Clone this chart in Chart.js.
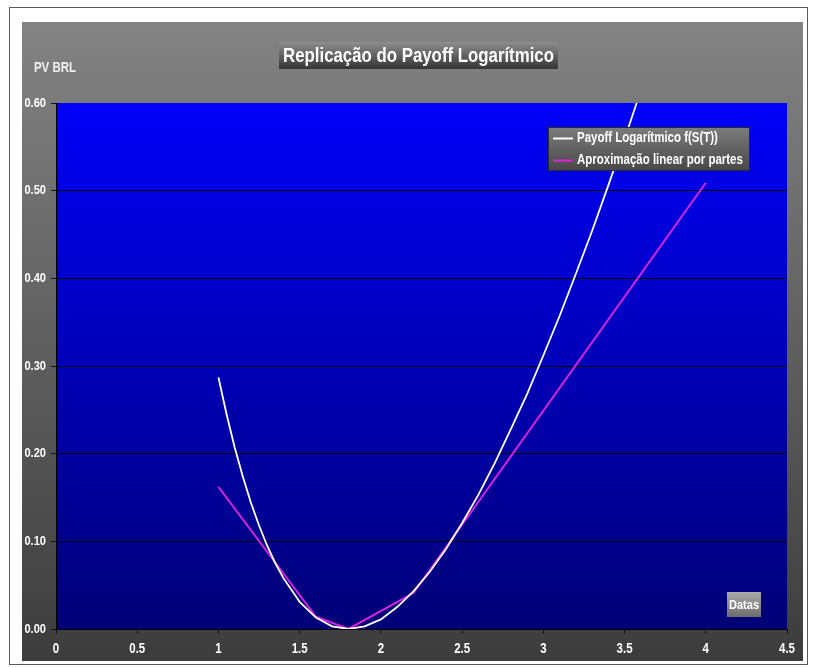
<!DOCTYPE html>
<html>
<head>
<meta charset="utf-8">
<script src="https://cdn.jsdelivr.net/npm/chart.js@4.4.1/dist/chart.umd.min.js"></script>
<style>
  html, body { margin: 0; padding: 0; background: #fff; }
  canvas { display: block; }
</style>
</head>
<body>
<canvas id="c" width="814" height="668" style="width:814px;height:668px"></canvas>
<script>
// Texts
const chartTitle = 'Replicação do Payoff Logarítmico';
const yAxisTitle = 'PV BRL';
const xAxisTitle = 'Datas';
const seriesNames = ['Payoff Logarítmico f(S(T))', 'Aproximação linear por partes'];

// Log payoff at terminal spot S(T)
const payoffS = [1.0, 1.05, 1.1, 1.15, 1.2, 1.25, 1.3, 1.35, 1.4, 1.5, 1.6, 1.7, 1.8, 1.9,
                 2.0, 2.1, 2.2, 2.3, 2.4, 2.5, 2.6, 2.7, 2.8, 2.9, 3.0, 3.1, 3.2, 3.3,
                 3.4, 3.5, 3.6];
const payoffValues = [0.287, 0.245, 0.207, 0.174, 0.144, 0.118, 0.095, 0.075, 0.058, 0.031,
                      0.013, 0.003, 0.000, 0.003, 0.011, 0.025, 0.043, 0.065, 0.091, 0.121,
                      0.153, 0.189, 0.228, 0.268, 0.312, 0.357, 0.405, 0.454, 0.506, 0.559,
                      0.614];

// Piecewise linear replication (strike knots)
const approxS = [1.0, 1.6, 1.8, 2.2, 4.0];
const approxValues = [0.162, 0.014, 0.000, 0.041, 0.509];

// Axis ticks
const xTickValues = [0, 0.5, 1, 1.5, 2, 2.5, 3, 3.5, 4, 4.5];
const yTickValues = [0, 0.1, 0.2, 0.3, 0.4, 0.5, 0.6];

// Narrow bold sans: regular sans squeezed horizontally
const FONT = "'Liberation Sans', Arial, sans-serif";
const SQUEEZE = 0.82;
const seriesColors = ['#ffffff', '#dd22dd'];

function toPoints(xs, ys) {
  return xs.map((x, i) => ({ x: x, y: ys[i] }));
}

function narrowText(ctx, text, x, y, align) {
  ctx.save();
  ctx.translate(x, y);
  ctx.scale(SQUEEZE, 1);
  ctx.textAlign = align;
  ctx.textBaseline = 'middle';
  ctx.fillText(text, 0, 0);
  ctx.restore();
}

function gradientBox(ctx, x, y, w, h, top, bottom, border) {
  const g = ctx.createLinearGradient(0, y, 0, y + h);
  g.addColorStop(0, top);
  g.addColorStop(1, bottom);
  ctx.fillStyle = g;
  ctx.fillRect(x, y, w, h);
  if (border) {
    ctx.strokeStyle = border;
    ctx.lineWidth = 1;
    ctx.strokeRect(Math.round(x) + 0.5, Math.round(y) + 0.5, Math.round(w) - 1, Math.round(h) - 1);
  }
}

const decorations = {
  id: 'decorations',
  beforeDraw(chart) {
    const ctx = chart.ctx;
    const a = chart.chartArea;
    ctx.save();
    ctx.fillStyle = '#ffffff';
    ctx.fillRect(0, 0, chart.width, chart.height);
    // outer frame
    ctx.strokeStyle = '#5a5a5a';
    ctx.lineWidth = 1;
    ctx.strokeRect(9.5, 7.5, 798, 657);
    // grey panel
    gradientBox(ctx, 22, 22, 781, 639, '#838383', '#3c3c3c');
    // plot area
    gradientBox(ctx, a.left, a.top, a.right - a.left, a.bottom - a.top, '#0000f8', '#000076');
    ctx.restore();
  },
  afterDraw(chart) {
    const ctx = chart.ctx;
    const xs = chart.scales.x;
    const ys = chart.scales.y;
    ctx.save();

    // tick labels
    ctx.fillStyle = '#ffffff';
    ctx.font = "bold 14px " + FONT;
    xs.ticks.forEach(t => narrowText(ctx, t.label, xs.getPixelForValue(t.value), 649, 'center'));
    ctx.font = "bold 13.5px " + FONT;
    ys.ticks.forEach(t => narrowText(ctx, t.label, 46, ys.getPixelForValue(t.value), 'right'));

    // title box
    ctx.font = "bold 20.5px " + FONT;
    const tw = ctx.measureText(chartTitle).width * SQUEEZE;
    const tcx = 418.5;
    gradientBox(ctx, tcx - tw / 2 - 4, 42, tw + 8, 27, '#8e8e8e', '#343434');
    ctx.fillStyle = '#ffffff';
    narrowText(ctx, chartTitle, tcx, 56, 'center');

    // y axis caption
    ctx.font = "bold 14px " + FONT;
    ctx.fillStyle = '#f0f0f0';
    narrowText(ctx, yAxisTitle, 55, 68, 'center');

    // x axis caption box
    gradientBox(ctx, 727, 592, 34, 25, '#aaaaaa', '#6c6c6c');
    ctx.font = "bold 13.5px " + FONT;
    ctx.fillStyle = '#ffffff';
    narrowText(ctx, xAxisTitle, 744, 605, 'center');

    // legend
    const lx = 548, ly = 127, lw = 202, lh = 44;
    gradientBox(ctx, lx, ly, lw, lh, '#7c7c7c', '#474747', '#2a2a2a');
    ctx.font = "bold 14px " + FONT;
    chart.data.datasets.forEach((ds, i) => {
      const y = ly + 11.5 + i * 22;
      ctx.strokeStyle = ds.borderColor;
      ctx.lineWidth = 2;
      ctx.beginPath();
      ctx.moveTo(lx + 5, y);
      ctx.lineTo(lx + 25, y);
      ctx.stroke();
      ctx.fillStyle = '#ffffff';
      narrowText(ctx, ds.label, lx + 29, y, 'left');
    });
    ctx.restore();
  }
};

new Chart(document.getElementById('c'), {
  type: 'line',
  data: {
    datasets: [
      {
        label: seriesNames[0],
        data: toPoints(payoffS, payoffValues),
        borderColor: seriesColors[0],
        borderWidth: 1.8,
        pointRadius: 0,
        tension: 0
      },
      {
        label: seriesNames[1],
        data: toPoints(approxS, approxValues),
        borderColor: seriesColors[1],
        borderWidth: 2,
        pointRadius: 0,
        tension: 0
      }
    ]
  },
  options: {
    responsive: false,
    animation: false,
    devicePixelRatio: 1,
    layout: { padding: { left: 0, top: 103, right: 27, bottom: 0 } },
    plugins: {
      legend: { display: false },
      title: { display: false },
      tooltip: { enabled: false }
    },
    scales: {
      x: {
        type: 'linear',
        min: 0,
        max: 4.5,
        afterBuildTicks: s => { s.ticks = xTickValues.map(v => ({ value: v })); },
        afterFit: s => { s.height = 39; },
        grid: { drawOnChartArea: false, drawTicks: true, tickLength: 5, color: '#111', tickColor: '#111' },
        border: { display: true, color: '#000', width: 1 },
        ticks: {
          color: 'rgba(0,0,0,0)',
          font: { family: FONT, size: 13, weight: 'bold' },
          padding: 7,
          maxRotation: 0,
          autoSkip: false,
          callback: v => String(v)
        }
      },
      y: {
        type: 'linear',
        min: 0,
        max: 0.6,
        afterBuildTicks: s => { s.ticks = yTickValues.map(v => ({ value: v })); },
        afterFit: s => { s.width = 56; },
        grid: {
          color: c => (c.tick && c.tick.value >= 0.6 ? 'rgba(0,0,0,0)' : '#000000'),
          tickColor: '#111',
          tickLength: 5,
          lineWidth: 1
        },
        border: { display: true, color: '#000', width: 1 },
        ticks: {
          color: 'rgba(0,0,0,0)',
          font: { family: FONT, size: 13, weight: 'bold' },
          padding: 5,
          autoSkip: false,
          callback: v => Number(v).toFixed(2)
        }
      }
    }
  },
  plugins: [decorations]
});
</script>
</body>
</html>
